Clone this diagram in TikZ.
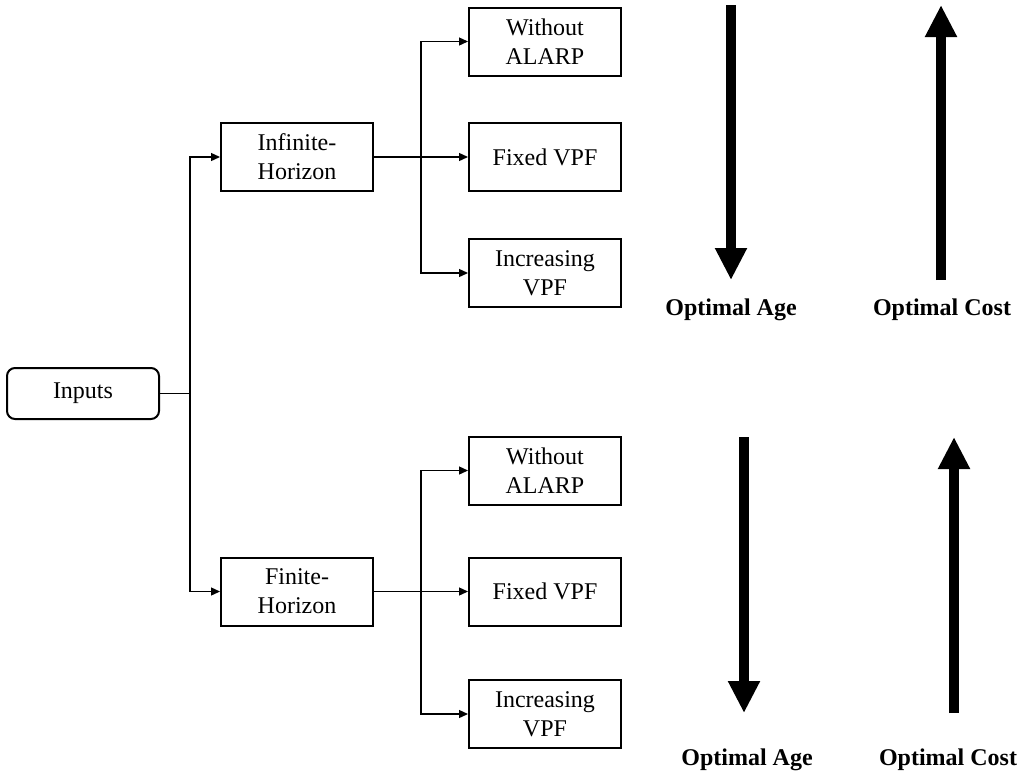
\documentclass[tikz,border=0pt]{standalone}
\usepackage{fontspec}
\setmainfont{Liberation Serif}
\usetikzlibrary{arrows.meta}
\tikzset{
  txt/.style={font=\fontsize{24}{29}\selectfont},
  box/.style={txt, draw, line width=2pt, minimum width=152pt, minimum height=68pt, align=center, inner sep=0pt},
  inbox/.style={box, minimum height=51pt, rounded corners=8pt},
  conn/.style={line width=1.3pt},
  arr/.style={conn, -{Triangle[length=9pt,width=8pt]}},
  bigarr/.style={line width=10.5pt, -{Triangle[length=32pt,width=30pt]}},
  lbl/.style={txt, font=\fontsize{24}{29}\selectfont\bfseries, anchor=base, inner sep=0pt}
}
\begin{document}
\begin{tikzpicture}[x=1pt,y=-1pt]
\useasboundingbox (0,0) rectangle (1033,772);
% nodes
\node[inbox] (inputs) at (83,393.5) {Inputs};
\node[box] (inf) at (297,157) {Infinite-\\Horizon};
\node[box] (fin) at (297,591.5) {Finite-\\Horizon};
\node[box] (wo1) at (545,41.5) {Without\\ALARP};
\node[box] (fix1) at (545,157) {Fixed VPF};
\node[box] (inc1) at (545,273) {Increasing\\VPF};
\node[box] (wo2) at (545,470.5) {Without\\ALARP};
\node[box] (fix2) at (545,591.5) {Fixed VPF};
\node[box] (inc2) at (545,714) {Increasing\\VPF};
% connectors
\coordinate (t) at (190,393.5);
\draw[conn] (inputs.east) -- (t);
\draw[arr] (t) |- (inf.west);
\draw[arr] (t) |- (fin.west);
\coordinate (b1) at (421,157);
\draw[arr] (inf.east) -- (fix1.west);
\draw[arr] (b1) |- (wo1.west);
\draw[arr] (b1) |- (inc1.west);
\coordinate (b2) at (421,591.5);
\draw[arr] (fin.east) -- (fix2.west);
\draw[arr] (b2) |- (wo2.west);
\draw[arr] (b2) |- (inc2.west);
% big arrows
\coordinate (a1s) at (731,5); \coordinate (a1e) at (731,280);
\coordinate (c1s) at (941,280); \coordinate (c1e) at (941,5);
\coordinate (a2s) at (744,437); \coordinate (a2e) at (744,713);
\coordinate (c2s) at (954,713); \coordinate (c2e) at (954,437);
\draw[bigarr] (a1s) -- (a1e);
\draw[bigarr] (c1s) -- (c1e);
\draw[bigarr] (a2s) -- (a2e);
\draw[bigarr] (c2s) -- (c2e);
% labels
\node[lbl] (la1) at (731,315) {Optimal Age};
\node[lbl] (lc1) at (942,315) {Optimal Cost};
\node[lbl] (la2) at (747,765) {Optimal Age};
\node[lbl] (lc2) at (948,765) {Optimal Cost};
\end{tikzpicture}
\end{document}
